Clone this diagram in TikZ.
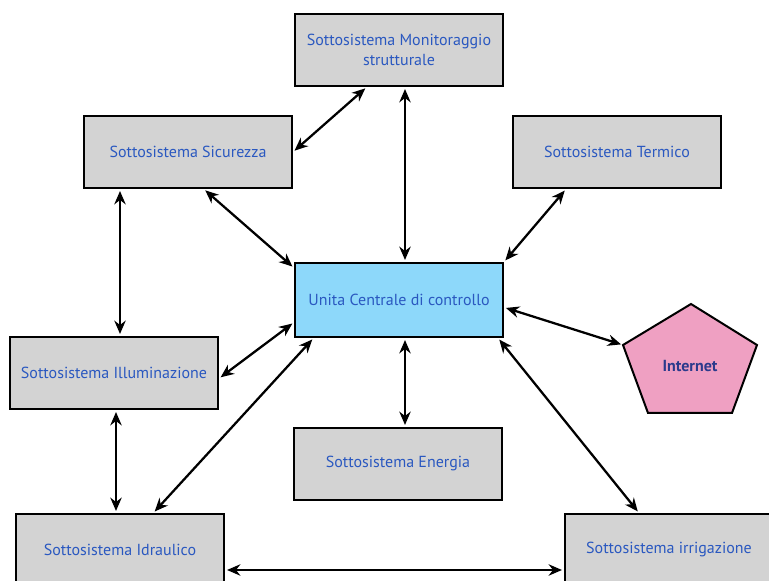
\documentclass[tikz,border=0pt]{standalone}
\usepackage{fontspec}
\setmainfont{PT Sans}
\usepackage{xcolor}
\usepackage{tikz}
\usetikzlibrary{arrows.meta}

\definecolor{boxgray}{HTML}{D3D3D3}
\definecolor{cublue}{HTML}{8DD8FA}
\definecolor{inetpink}{HTML}{EFA0C2}
\definecolor{labelblue}{HTML}{2A58C0}
\definecolor{inetnavy}{HTML}{2B3A8C}

\tikzset{
  box/.style={draw=black, line width=1.5pt, fill=boxgray, minimum width=156pt,
    minimum height=54pt, align=center, text=labelblue,
    font=\fontsize{12}{14.5}\selectfont},
  link/.style={{Stealth[length=10pt,width=8.5pt]}-{Stealth[length=10pt,width=8.5pt]},
    line width=1.7pt, shorten <=1.5pt, shorten >=1.5pt}
}

\begin{document}
\begin{tikzpicture}[x=0.75pt, y=-0.75pt]
    \useasboundingbox (0,0) rectangle (769,581);

    % Subsystems
    \node[box] (mon) at (399,50) {Sottosistema Monitoraggio\\strutturale};
    \node[box] (sic) at (188,152) {Sottosistema Sicurezza};
    \node[box] (ter) at (617,152) {Sottosistema Termico};
    \node[box, fill=cublue, minimum height=55.5pt] (cu) at (399,300) {Unita Centrale di controllo};
    \node[box] (ill) at (114,373) {Sottosistema Illuminazione};
    \node[box] (ene) at (398,464) {Sottosistema Energia};
    \node[box] (idr) at (120,550) {Sottosistema Idraulico};
    \node[box] (irr) at (669,550) {Sottosistema irrigazione};

    % Internet pentagon
    \draw[line width=1.5pt, fill=inetpink] (691,304) -- (757,345) -- (732,413)
        -- (648,413) -- (623,345) -- cycle;
    \coordinate (inetL) at (623,345);
    \node[text=inetnavy, font=\fontsize{12}{14.5}\selectfont\bfseries] (inet) at (690,366) {Internet};

    % Links to the central unit
    \draw[link] (mon.229) -- (sic.east);
    \draw[link] ([xshift=4.5pt]mon.south) -- ([xshift=4.5pt]mon.south |- cu.north);
    \draw[link] (ter.216) -- (cu.north east);
    \draw[link] (sic.-67) -- (cu.163);
    \draw[link] ([xshift=4.5pt]ill.north) -- ([xshift=4.5pt]ill.north |- sic.south);
    \draw[link] (cu.-4) -- (inetL);
    \draw[link] (cu.192) -- (ill.-3);
    \draw[link] ([xshift=4.5pt]cu.south) -- ([xshift=4.5pt]cu.south |- ene.north);
    \draw[link] (cu.204) -- (idr.48);
    \draw[link] ([xshift=1.5pt]ill.south) -- ([xshift=1.5pt]ill.south |- idr.north);
    \draw[link] (cu.-21) -- (irr.129);
    \draw[link] ([yshift=-15pt]idr.east) -- ([yshift=-15pt]irr.west);
\end{tikzpicture}
\end{document}
